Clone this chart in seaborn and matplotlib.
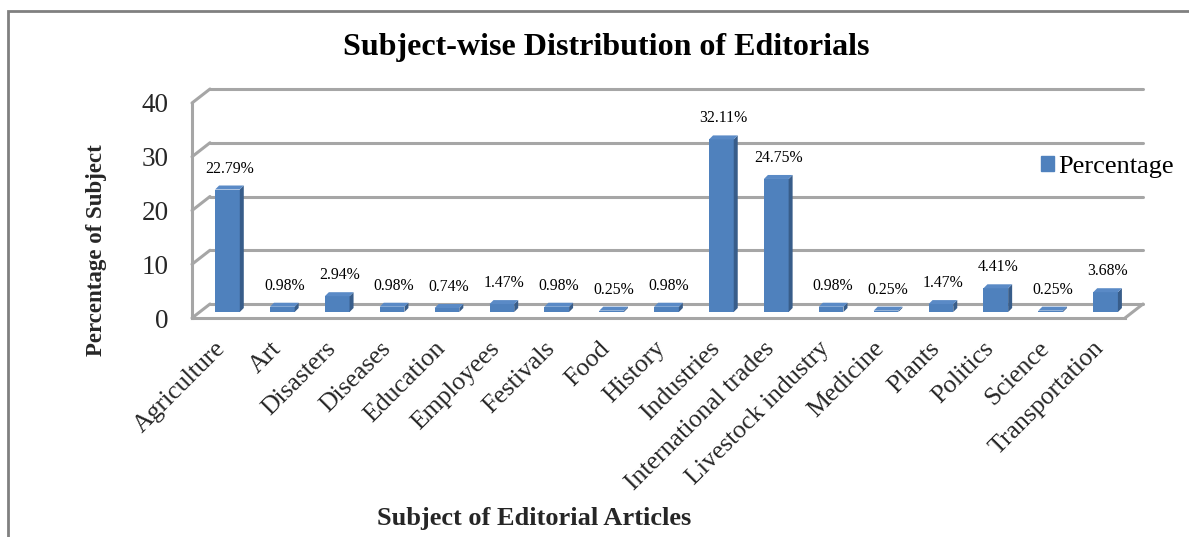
import numpy as np
import pandas as pd
import seaborn as sns
import matplotlib.pyplot as plt
import matplotlib.transforms as mtransforms
from matplotlib.patches import Polygon, Rectangle, Patch
from matplotlib.lines import Line2D

subjects = [
    "Agriculture",
    "Art",
    "Disasters",
    "Diseases",
    "Education",
    "Employees",
    "Festivals",
    "Food",
    "History",
    "Industries",
    "International trades",
    "Livestock industry",
    "Medicine",
    "Plants",
    "Politics",
    "Science",
    "Transportation",
]
percentages = [22.79, 0.98, 2.94, 0.98, 0.74, 1.47, 0.98, 0.25, 0.98,
               32.11, 24.75, 0.98, 0.25, 1.47, 4.41, 0.25, 3.68]
y_ticks = [0, 10, 20, 30, 40]

BLUE = "#4f81bd"
SIDE = "#385d8a"
TOP = "#5a8ac6"
GRID = "#a6a6a6"
W, H = 1189, 537
DEPTH = (18, 14)      # back wall offset in pixels
BAR_SHIFT = (8, 6)    # bars sit half way into the floor
BAR_D = 4             # bar thickness

sns.set_style("white")
plt.rcParams["font.family"] = ["Liberation Serif", "DejaVu Serif"]
plt.rcParams["text.color"] = "black"

df = pd.DataFrame({"subject": subjects, "pct": percentages})

fig = plt.figure(figsize=(W / 100, H / 100), dpi=100)
ax = fig.add_axes([192 / W, 1 - 318 / H, 933 / W, 215 / H])
sns.barplot(data=df, x="subject", y="pct", color=BLUE, width=0.45,
            saturation=1, ax=ax, zorder=3)
ax.set_xlim(-0.5, len(subjects) - 0.5)
ax.set_ylim(y_ticks[0], y_ticks[-1])
ax.set_yticks(y_ticks)

ident = mtransforms.IdentityTransform()
back = ax.transData + mtransforms.Affine2D().translate(*DEPTH)
x0, x1 = ax.get_xlim()

# back wall gridlines + left diagonals
for t in y_ticks:
    ax.add_line(Line2D([x0, x1], [t, t], transform=back, color=GRID,
                       lw=2.2, clip_on=False, zorder=1))
    px, py = ax.transData.transform((x0, t))
    ax.add_line(Line2D([px, px + DEPTH[0]], [py, py + DEPTH[1]], transform=ident,
                       color=GRID, lw=2.2, clip_on=False, zorder=1))
# floor right edge
px, py = ax.transData.transform((x1, 0))
ax.add_line(Line2D([px, px + DEPTH[0]], [py, py + DEPTH[1]], transform=ident,
                   color=GRID, lw=2.2, clip_on=False, zorder=1))

# fake 3D bars
shift = mtransforms.Affine2D().translate(*BAR_SHIFT)
for bar, val in zip(ax.patches, percentages):
    bar.set_transform(ax.transData + shift)
    bar.set_edgecolor("none")
    bar.set_clip_on(False)
    (bx0, by0), (bx1, by1) = (ax.transData + shift).transform(
        [(bar.get_x(), 0), (bar.get_x() + bar.get_width(), bar.get_height())]
    )
    d = BAR_D
    ax.add_patch(Polygon([(bx1, by0), (bx1 + d, by0 + d), (bx1 + d, by1 + d), (bx1, by1)],
                         closed=True, transform=ident, color=SIDE, lw=0,
                         clip_on=False, zorder=3))
    ax.add_patch(Polygon([(bx0, by1), (bx1, by1), (bx1 + d, by1 + d), (bx0 + d, by1 + d)],
                         closed=True, transform=ident, color=TOP, lw=0,
                         clip_on=False, zorder=3))
    ax.annotate(f"{val:.2f}%", xy=(bar.get_x() + bar.get_width() / 2, val),
                xytext=(BAR_SHIFT[0] + 2, BAR_SHIFT[1] + d + 9),
                textcoords="offset pixels", ha="center", va="bottom",
                fontsize=11.3, annotation_clip=False)

# axes styling
for s in ["top", "right"]:
    ax.spines[s].set_visible(False)
for s in ["left", "bottom"]:
    ax.spines[s].set_color(GRID)
    ax.spines[s].set_linewidth(2.2)
ax.tick_params(axis="y", length=6.5, width=1.5, color=GRID, pad=10.5, labelsize=19.5)
ax.tick_params(axis="x", length=0, pad=19.5)
ax.set_xticks(range(len(subjects)))
ax.set_xticklabels(subjects, rotation=45, ha="right", va="center",
                   rotation_mode="anchor", fontsize=18.5)
for lab in ax.get_xticklabels():
    lab.set_transform(lab.get_transform() + mtransforms.Affine2D().translate(3, 0))

ax.set_ylabel("Percentage of Subject", fontsize=16.5, fontweight="bold")
ax.yaxis.set_label_coords(-0.102, (318 - 250) / 215)
ax.yaxis.label.set_va("center")
ax.set_xlabel("Subject of Editorial Articles", fontsize=19, fontweight="bold")
ax.xaxis.set_label_coords((534 - 192) / 933, (318 - 519) / 215)
ax.xaxis.label.set_va("center")

ax.legend(handles=[Patch(color=BLUE, label="Percentage")], loc="center left",
          bbox_to_anchor=(0.91, 0.702), frameon=False, fontsize=19,
          handlelength=0.5, handleheight=0.5, handletextpad=0.15,
          borderpad=0, borderaxespad=0)

fig.text(606 / W, 1 - 47 / H, "Subject-wise Distribution of Editorials",
         ha="center", va="center", fontsize=23, fontweight="bold")

# chart frame (right and bottom edges fall outside the picture)
fig.add_artist(Rectangle((8 / W, -0.5), 2, 1.5 - 11 / H, transform=fig.transFigure,
                         fill=False, edgecolor="#808080", lw=2))

plt.savefig("out.png", dpi=100)
